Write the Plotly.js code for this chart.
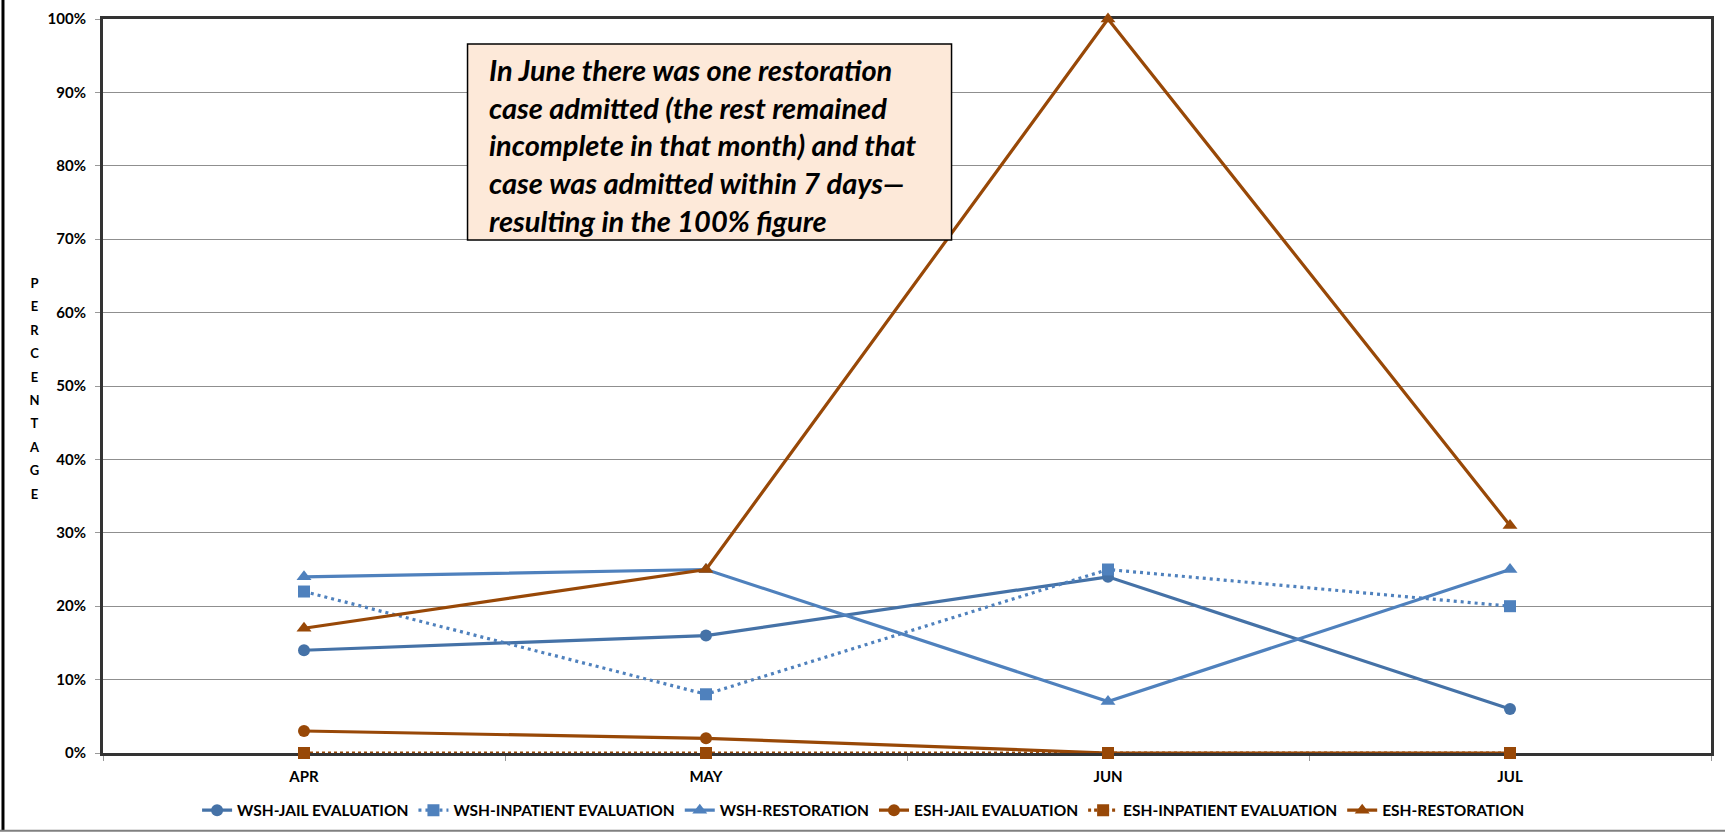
<!DOCTYPE html>
<html>
<head>
<meta charset="utf-8">
<script src="https://cdn.plot.ly/plotly-3.0.1.min.js"></script>
<style>html,body{margin:0;padding:0;background:#fff;}#chart{width:1725px;height:834px;}</style>
</head>
<body>
<div id="chart"></div>
<script>
const months = ["APR", "MAY", "JUN", "JUL"];
const wshJailEval = [14, 16, 24, 6];
const wshInpatientEval = [22, 8, 25, 20];
const wshRestoration = [24, 25, 7, 25];
const eshJailEval = [3, 2, 0, 0];
const eshInpatientEval = [0, 0, 0, 0];
const eshRestoration = [17, 25, 100, 31];
const seriesNames = ["WSH-JAIL EVALUATION", "WSH-INPATIENT EVALUATION", "WSH-RESTORATION",
  "ESH-JAIL EVALUATION", "ESH-INPATIENT EVALUATION", "ESH-RESTORATION"];
const yTicks = [0, 10, 20, 30, 40, 50, 60, 70, 80, 90, 100];
const noteText = "In June there was one restoration<br>case admitted (the rest remained<br>incomplete in that month) and that<br>case was admitted within 7 days\u2014<br>resulting in the 100% figure";
const yTitleLetters = "PERCENTAGE".split("");

const BLUE_D = "#4572A7", BLUE = "#4F81BD", BROWN = "#984807";
function tr(y, name, color, sym, dash, size) {
  return {
    x: months, y: y, name: name, type: "scatter", mode: "lines+markers",
    line: {color: color, width: 3.2, dash: dash},
    marker: {color: color, symbol: sym, size: size},
    cliponaxis: false
  };
}
const data = [
  tr(wshJailEval, seriesNames[0], BLUE_D, "circle", "solid", 12),
  tr(wshInpatientEval, seriesNames[1], BLUE, "square", "3px,4px", 12),
  tr(wshRestoration, seriesNames[2], BLUE, "triangle-up", "solid", 13),
  tr(eshJailEval, seriesNames[3], BROWN, "circle", "solid", 12),
  tr(eshInpatientEval, seriesNames[4], BROWN, "square", "3px,3px", 12),
  tr(eshRestoration, seriesNames[5], BROWN, "triangle-up", "solid", 13)
];

const tickFont = {family: "Lato, 'Open Sans', sans-serif", size: 15, color: "#000", weight: 700};
const layout = {
  width: 1725, height: 834,
  margin: {l: 103, r: 14, t: 19, b: 81, autoexpand: false},
  paper_bgcolor: "#fff", plot_bgcolor: "#fff",
  showlegend: true,
  legend: {
    orientation: "h", x: 0.473, xanchor: "center", yref: "container", y: 0.028, yanchor: "middle",
    font: {family: "Lato, sans-serif", size: 15.5, color: "#000", weight: 700},
    itemwidth: 30, tracegroupgap: 0
  },
  xaxis: {
    type: "category", range: [-0.5, 3.5],
    showgrid: false, zeroline: false, layer: "below traces",
    showline: true, linecolor: "#333", linewidth: 3, mirror: true,
    ticks: "outside", tickson: "boundaries", ticklen: 5, tickcolor: "#999", tickwidth: 1,
    tickfont: tickFont, ticklabelstandoff: 8
  },
  yaxis: {
    range: [0, 100], tickvals: yTicks, ticktext: yTicks.map(v => v + "%"),
    showgrid: true, gridcolor: "#8f8f8f", gridwidth: 1, zeroline: false, layer: "below traces",
    showline: true, linecolor: "#333", linewidth: 3, mirror: true,
    ticks: "outside", ticklen: 5, tickcolor: "#999", tickwidth: 1,
    tickfont: tickFont, ticklabelstandoff: 6
  },
  shapes: [
    {type: "rect", xref: "paper", yref: "paper", x0: 0.2267, x1: 0.5277, y0: 0.699, y1: 0.966,
      fillcolor: "#FDE9D9", line: {color: "#000", width: 1.5}, layer: "above"},
    {type: "line", xref: "paper", yref: "paper", x0: -0.0622, x1: -0.0622, y0: 1.03, y1: -0.106,
      line: {color: "#000", width: 3}},
    {type: "line", xref: "paper", yref: "paper", x0: -0.07, x1: 1.01, y0: -0.106, y1: -0.106,
      line: {color: "#808080", width: 2}}
  ],
  annotations: [
    {
      xref: "paper", yref: "paper", x: 0.2388, y: 0.829, xanchor: "left", yanchor: "middle",
      text: "<b><i>" + noteText + "</i></b>", showarrow: false, align: "left",
      font: {family: "Lato, sans-serif", size: 29, color: "#000"}
    },
    {
      xref: "paper", yref: "paper", x: -0.0423, y: 0.496, xanchor: "center", yanchor: "middle",
      showarrow: false, align: "center",
      text: yTitleLetters.map(c => '<span style="font-size:13px">' + c + '</span>').join("<br>"),
      font: {family: "Lato, sans-serif", size: 18, color: "#000", weight: 700}
    }
  ]
};
Plotly.newPlot("chart", data, layout, {displayModeBar: false});
</script>
</body>
</html>
